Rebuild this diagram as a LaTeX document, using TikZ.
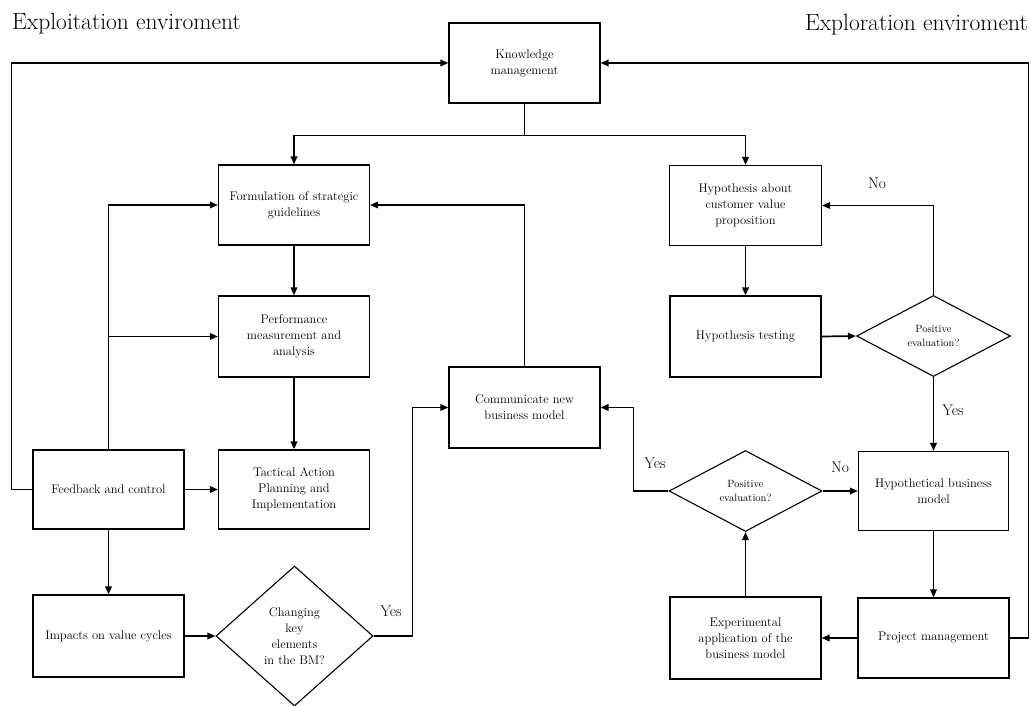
\documentclass[tikz,border=0pt]{standalone}
\usetikzlibrary{shapes.geometric,arrows.meta}
\begin{document}
\begin{tikzpicture}[x=1pt,y=-1pt,
  box/.style={draw, line width=1.1pt, minimum width=151pt, minimum height=80pt,
    align=center, inner sep=2pt, font=\fontsize{12.5}{16}\selectfont},
  decision/.style={draw, diamond, line width=1.1pt, inner sep=0pt, align=center,
    font=\fontsize{10.5}{14}\selectfont},
  conn/.style={line width=1.7pt, -{Triangle[length=8pt,width=6.5pt]}},
  plain/.style={line width=1.7pt},
  answer/.style={font=\fontsize{15.5}{18}\selectfont, inner sep=0pt},
  heading/.style={font=\fontsize{23.5}{27}\selectfont, inner sep=0pt}]
\fill[white] (0,0) rectangle (1031,706);
\useasboundingbox (0,0) rectangle (1031,706);

% headings
\node[heading, anchor=base west] (hl) at (12,30) {Exploitation enviroment};
\node[heading, anchor=base east] (hr) at (1028,31) {Exploration enviroment};

% boxes
\node[box] (KM) at (524.5,63) {Knowledge\\management};
\node[box] (FSG) at (294,205) {Formulation of strategic\\guidelines};
\node[box, minimum height=81pt] (PMA) at (294,336.5) {Performance\\measurement and\\analysis};
\node[box, minimum height=79pt] (TAP) at (294,489.5) {Tactical Action\\Planning and\\Implementation};
\node[box, minimum height=79pt] (FC) at (108.5,489.5) {Feedback and control};
\node[box, minimum height=82pt] (IVC) at (108.5,636) {Impacts on value cycles};
\node[box, minimum height=81pt] (CNBM) at (524.5,407.5) {Communicate new\\business model};
\node[box, minimum width=152pt] (HCVP) at (745.5,205.5) {Hypothesis about\\customer value\\proposition};
\node[box, minimum height=81pt] (HT) at (745.5,336.5) {Hypothesis testing};
\node[box, minimum width=150pt, minimum height=79pt] (HBM) at (933.5,491) {Hypothetical business\\model};
\node[box] (PM) at (933.5,638) {Project management};
\node[box, minimum height=82pt] (EA) at (745.5,638) {Experimental\\application of the\\business model};

% decisions
\node[decision, minimum width=157pt, minimum height=140pt, font=\fontsize{12.5}{16}\selectfont] (D1) at (294.5,636) {Changing\\key\\elements\\in the BM?};
\node[decision, minimum width=154pt, minimum height=81pt] (D2) at (933.5,336) {Positive\\evaluation?};
\node[decision, minimum width=153pt, minimum height=81pt] (D3) at (745.5,491) {Positive\\evaluation?};

% knowledge management distribution
\draw[plain] (KM.south) -- ++(0,32) coordinate (split);
\draw[conn] (split) -| (FSG.north);
\draw[conn] (split) -| (HCVP.north);

% feedback loops into knowledge management
\draw[conn] (FC.west) -- ++(-21,0) |- (KM.west);
\draw[conn] (PM.east) -- ++(19,0) |- (KM.east);

% exploitation chain
\draw[conn] (FSG.south) -- (PMA.north);
\draw[conn] (PMA.south) -- (TAP.north);
\draw[conn] (FC.north) |- (FSG.west);
\draw[conn] (FC.north |- PMA.west) -- (PMA.west);
\draw[conn] (FC.east) -- (TAP.west);
\draw[conn] (FC.south) -- (IVC.north);
\draw[conn] (IVC.east) -- (D1.west);
\draw[conn] (D1.east) -- ++(39,0) |- (CNBM.west);
\draw[conn] (CNBM.north) |- (FSG.east);

% exploration chain
\draw[conn] (HCVP.south) -- (HT.north);
\draw[conn] (HT.east) -- (D2.west);
\draw[conn] (D2.north) |- (HCVP.east);
\draw[conn] (D2.south) -- (HBM.north);
\draw[conn] (HBM.south) -- (PM.north);
\draw[conn] (PM.west) -- (EA.east);
\draw[conn] (EA.north) -- (D3.south);
\draw[conn] (D3.east) -- (HBM.west);
\draw[conn] (D3.west) -- ++(-35,0) |- (CNBM.east);

% answers
\node[answer] (a1) at (391,611) {Yes};
\node[answer] (a2) at (877,183) {No};
\node[answer] (a3) at (953,410) {Yes};
\node[answer] (a4) at (655,463) {Yes};
\node[answer] (a5) at (840,467) {No};
\end{tikzpicture}
\end{document}
